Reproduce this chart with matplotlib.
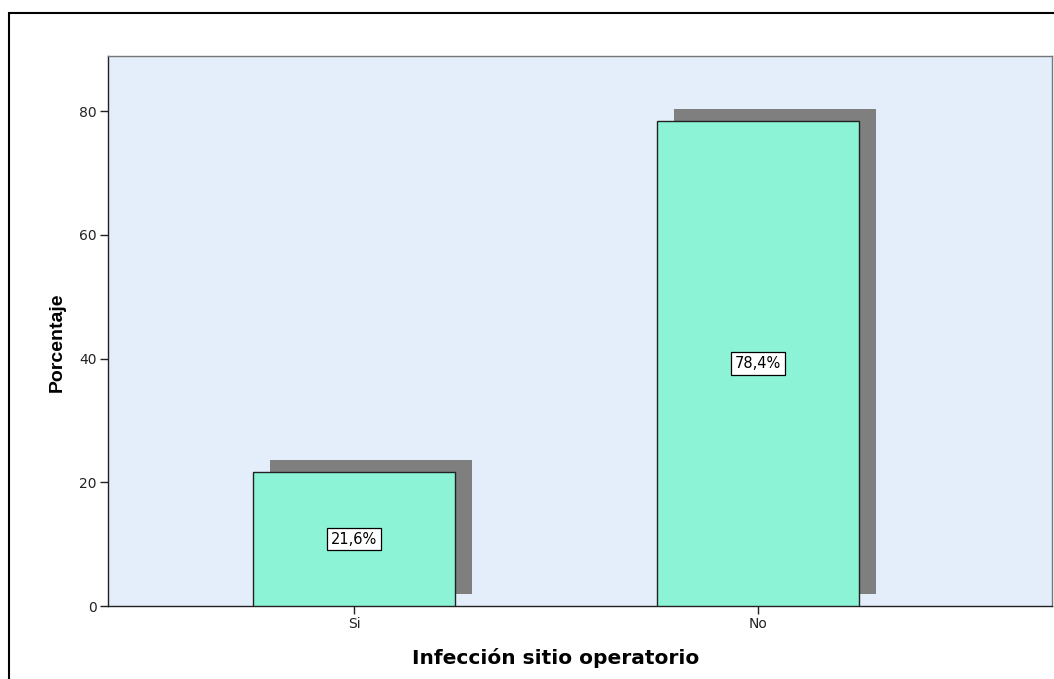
import matplotlib
matplotlib.use("Agg")
import matplotlib.pyplot as plt
from matplotlib.patches import Rectangle

categories = ["Si", "No"]
percentages = [21.6, 78.4]
value_labels = ["21,6%", "78,4%"]
xlabel = "Infección sitio operatorio"
ylabel = "Porcentaje"

plt.rcParams['font.family'] = ['DejaVu Sans']

fig = plt.figure(figsize=(10.54, 6.79), dpi=100)
# outer frame
fig.patches.append(Rectangle((9/1054, -0.01), 1.0, 1 - 13/679 + 0.01,
                             transform=fig.transFigure, fill=False,
                             edgecolor='black', linewidth=1.5))

ax = fig.add_axes([108/1054, 73/679, 944/1054, 550/679])
ax.set_facecolor('#e3eefa')

x = list(range(len(categories)))
width = 0.5
shadow_dx = 0.042
shadow_dy = 2.0

# drop shadows
ax.bar([i + shadow_dx for i in x], percentages, width=width, bottom=shadow_dy,
       color='#7f7f7f', edgecolor='none', zorder=2)
ax.bar(x, percentages, width=width, color='#8cf3d6', edgecolor='#222222',
       linewidth=1.0, zorder=3)

for i, v, lab in zip(x, percentages, value_labels):
    ax.text(i, v / 2, lab, ha='center', va='center', fontsize=10.5, zorder=4,
            bbox=dict(boxstyle='square,pad=0.25', facecolor='white',
                      edgecolor='black', linewidth=0.9))

ax.set_xlim(-0.609, 1.728)
ax.set_ylim(0, 88.9)
ax.set_yticks([0, 20, 40, 60, 80])
ax.set_xticks(x)
ax.set_xticklabels(categories)
ax.tick_params(axis='both', direction='out', length=6, width=1, labelsize=10,
               colors='#222222', pad=2)

for side in ['left', 'bottom']:
    ax.spines[side].set_color('#222222')
    ax.spines[side].set_linewidth(1.0)
for side in ['top', 'right']:
    ax.spines[side].set_color('#777777')
    ax.spines[side].set_linewidth(1.0)

ax.set_xlabel(xlabel, fontsize=14.5, fontweight='bold')
ax.set_ylabel(ylabel, fontsize=14, fontweight='bold', family='Liberation Sans')
ax.xaxis.set_label_coords(0.474, -0.076)
ax.yaxis.set_label_coords(-0.045, 0.479)

fig.savefig('out.png', dpi=100)
